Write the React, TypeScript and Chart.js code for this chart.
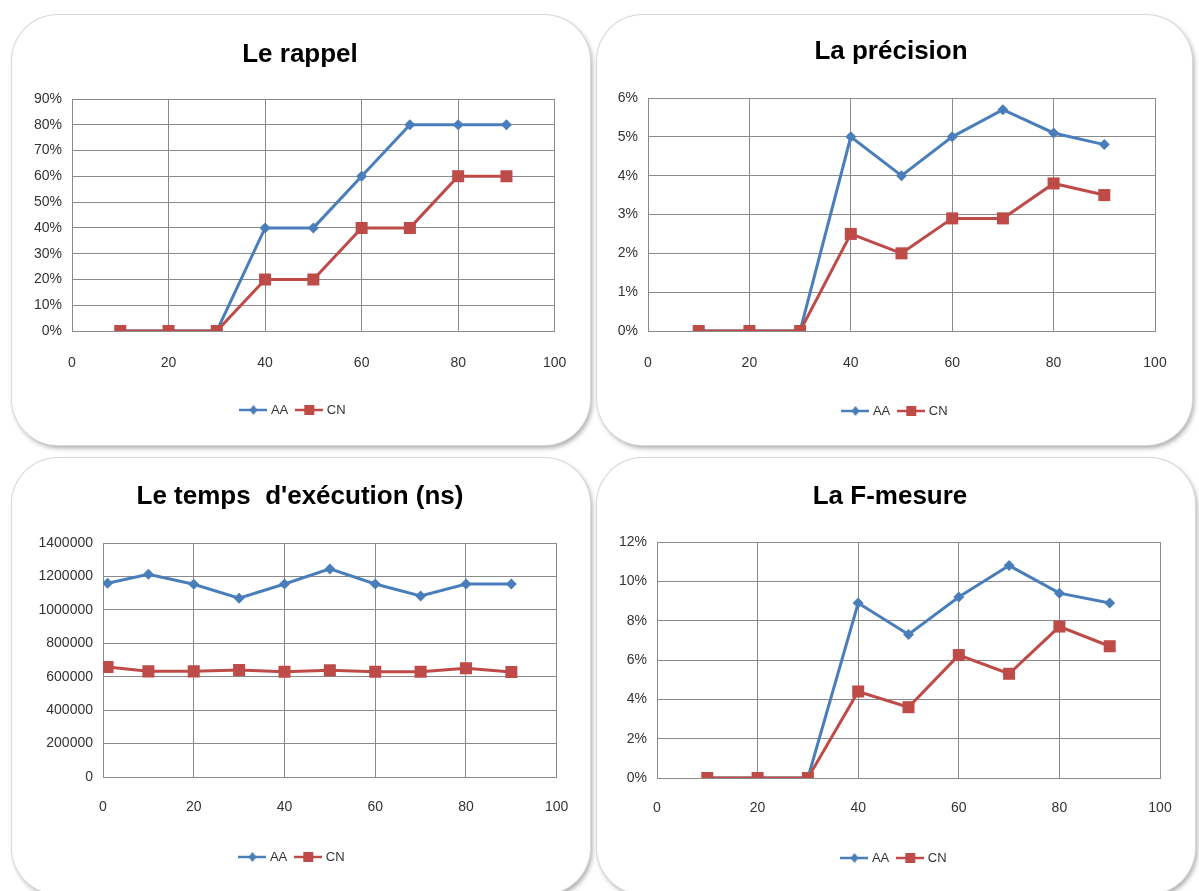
import React, { useEffect, useRef } from "react";
import { Chart, registerables } from "chart.js";

Chart.register(...registerables);

// ---------- data ----------
const seriesNames = ["AA", "CN"];
const xValues = [10, 20, 30, 40, 50, 60, 70, 80, 90];
const timeXValues = [1, 10, 20, 30, 40, 50, 60, 70, 80, 90];

const rappelAA = [0, 0, 0, 40, 40, 60, 80, 80, 80];
const rappelCN = [0, 0, 0, 20, 20, 40, 40, 60, 60];

const precisionAA = [0, 0, 0, 5.0, 4.0, 5.0, 5.7, 5.1, 4.8];
const precisionCN = [0, 0, 0, 2.5, 2.0, 2.9, 2.9, 3.8, 3.5];

const timeAA = [1159000, 1213000, 1153000, 1070000, 1155000, 1245000, 1155000, 1083000, 1155000, 1155000];
const timeCN = [658000, 632000, 632000, 640000, 630000, 638000, 630000, 630000, 650000, 628000];

const fmesureAA = [0, 0, 0, 8.9, 7.3, 9.2, 10.8, 9.4, 8.9];
const fmesureCN = [0, 0, 0, 4.4, 3.6, 6.25, 5.3, 7.7, 6.7];

const titles = ["Le rappel", "La précision", "Le temps  d'exécution (ns)", "La F-mesure"];

// ---------- style ----------
const BLUE = "#4A7EBB";
const RED = "#BE4B48";
const GRID = "#8a8a8a";
const TEXT = "#333333";
const FONT = "'Liberation Sans Narrow', 'Liberation Sans', Arial, sans-serif";

type Geo = {
  box: { x: number; y: number; w: number; h: number };
  plot: { l: number; r: number; t: number; b: number };
  titleY: number;
  titleX: number;
  xlabY: number;
  legendY: number;
  legendX: number;
};

function legendImage(color: string, square: boolean): HTMLCanvasElement {
  const c = document.createElement("canvas");
  c.width = 28;
  c.height = 14;
  const g = c.getContext("2d")!;
  g.strokeStyle = color;
  g.lineWidth = 2.5;
  g.beginPath();
  g.moveTo(0, 7);
  g.lineTo(28, 7);
  g.stroke();
  g.fillStyle = color;
  if (square) {
    g.fillRect(14 - 5, 7 - 5, 10, 10);
  } else {
    g.beginPath();
    g.moveTo(14, 2);
    g.lineTo(18, 7);
    g.lineTo(14, 12);
    g.lineTo(10, 7);
    g.closePath();
    g.fill();
  }
  return c;
}

type PanelProps = {
  geo: Geo;
  title: string;
  xs: number[];
  aa: number[];
  cn: number[];
  yMax: number;
  yStep: number;
  fmt: (v: number) => string;
};

function Panel({ geo, title, xs, aa, cn, yMax, yStep, fmt }: PanelProps) {
  const ref = useRef<HTMLCanvasElement>(null);
  useEffect(() => {
    const { box, plot } = geo;
    const pl = plot.l - box.x;
    const pr = box.w - (plot.r - box.x);
    const pt = plot.t - box.y;
    const pb = plot.b - box.y;
    const titleSize = 26;
    const titleLH = titleSize * 1.2;
    const tc = geo.titleY - box.y;
    const tPadTop = tc - titleLH / 2;
    const tPadBottom = pt - tc - titleLH / 2;
    const legFont = 13;
    const legPad = 10;
    const lc = geo.legendY - box.y;
    const legTop = lc - legPad - legFont / 2;
    const legBottom = legTop + 2 * legPad + legFont;
    const padBottom = box.h - legBottom;
    const xAxisH = legTop - pb;
    const tickSize = 14;
    const xPad = geo.xlabY - box.y - pb - (tickSize * 1.2) / 2;

    const imgs = [legendImage(BLUE, false), legendImage(RED, true)];

    const centerShift = {
      id: "centerShift",
      afterLayout(ch: any) {
        const shift = (b: any, target: number) => {
          if (!b) return;
          const dx = target - box.x - (b.left + b.right) / 2;
          b.left += dx;
          b.right += dx;
        };
        shift(ch.legend, geo.legendX);
        shift(ch.titleBlock, geo.titleX);
      },
    };

    const chart = new Chart(ref.current!, {
      type: "line",
      data: {
        datasets: [
          {
            label: seriesNames[0],
            data: xs.map((x, i) => ({ x, y: aa[i] })),
            borderColor: BLUE,
            backgroundColor: BLUE,
            borderWidth: 3,
            pointStyle: "rectRot",
            pointRadius: 5.5,
            pointBorderWidth: 0,
            tension: 0,
            order: 1,
          },
          {
            label: seriesNames[1],
            data: xs.map((x, i) => ({ x, y: cn[i] })),
            borderColor: RED,
            backgroundColor: RED,
            borderWidth: 3,
            pointStyle: "rect",
            pointRadius: 8.5,
            pointBorderWidth: 0,
            tension: 0,
            order: 0,
          },
        ],
      },
      options: {
        animation: false,
        responsive: false,
        layout: { padding: { left: 0, right: pr, top: 0, bottom: padBottom } },
        plugins: {
          tooltip: { enabled: false },
          title: {
            display: true,
            text: title,
            color: "#000",
            font: { family: FONT, size: titleSize, weight: "bold", lineHeight: 1.2 },
            padding: { top: tPadTop, bottom: tPadBottom },
          },
          legend: {
            position: "bottom",
            labels: {
              usePointStyle: true,
              pointStyleWidth: 22,
              padding: legPad,
              color: TEXT,
              font: { family: FONT, size: legFont },
              sort: (a: any, b: any) => a.datasetIndex - b.datasetIndex,
              generateLabels: (ch: any) => {
                const items = (Chart.defaults.plugins.legend.labels as any).generateLabels(ch);
                return items.map((it: any) => ({ ...it, pointStyle: imgs[it.datasetIndex], fontColor: TEXT }));
              },
            },
          },
        },
        scales: {
          x: {
            type: "linear",
            min: 0,
            max: 100,
            ticks: {
              stepSize: 20,
              color: TEXT,
              padding: xPad,
              font: { family: FONT, size: tickSize },
              maxRotation: 0,
            },
            grid: { color: GRID, drawTicks: false, lineWidth: 1 },
            border: { display: true, color: GRID },
            afterFit: (s: any) => {
              s.height = xAxisH;
            },
          },
          y: {
            min: 0,
            max: yMax,
            ticks: {
              stepSize: yStep,
              color: TEXT,
              padding: 10,
              font: { family: FONT, size: tickSize },
              callback: (v: any) => fmt(Number(v)),
            },
            grid: { color: GRID, drawTicks: false, lineWidth: 1 },
            border: { display: true, color: GRID },
            afterFit: (s: any) => {
              s.width = pl;
            },
          },
        },
      },
      plugins: [centerShift],
    } as any);
    return () => chart.destroy();
  }, []);

  const { box } = geo;
  return (
    <div
      style={{
        position: "absolute",
        left: box.x,
        top: box.y,
        width: box.w,
        height: box.h,
        borderRadius: 46,
        background: "#fff",
        boxShadow: "0 0 0 1px #d8d8d8, 2px 3px 5px rgba(0,0,0,0.35)",
        overflow: "hidden",
      }}
    >
      <canvas ref={ref} width={box.w} height={box.h} style={{ display: "block", width: box.w, height: box.h }} />
    </div>
  );
}

const pct = (v: number) => `${v}%`;
const plain = (v: number) => `${v}`;

const geos: Geo[] = [
  { box: { x: 12, y: 15, w: 578, h: 430 }, plot: { l: 72, r: 558, t: 99, b: 331 }, titleY: 55, titleX: 300, xlabY: 363, legendY: 410, legendX: 294 },
  { box: { x: 597, y: 15, w: 595, h: 430 }, plot: { l: 648, r: 1155, t: 98, b: 331 }, titleY: 52, titleX: 891, xlabY: 363, legendY: 411, legendX: 896 },
  { box: { x: 12, y: 458, w: 578, h: 436 }, plot: { l: 103, r: 557, t: 543, b: 777 }, titleY: 497, titleX: 300, xlabY: 807, legendY: 857, legendX: 293 },
  { box: { x: 597, y: 458, w: 598, h: 436 }, plot: { l: 657, r: 1160, t: 542, b: 778 }, titleY: 497, titleX: 890, xlabY: 808, legendY: 858, legendX: 895 },
];

export default function App() {
  return (
    <div style={{ position: "fixed", left: 0, top: 0, width: 1199, height: 891, background: "#fff", overflow: "hidden" }}>
      <Panel geo={geos[0]} title={titles[0]} xs={xValues} aa={rappelAA} cn={rappelCN} yMax={90} yStep={10} fmt={pct} />
      <Panel geo={geos[1]} title={titles[1]} xs={xValues} aa={precisionAA} cn={precisionCN} yMax={6} yStep={1} fmt={pct} />
      <Panel geo={geos[2]} title={titles[2]} xs={timeXValues} aa={timeAA} cn={timeCN} yMax={1400000} yStep={200000} fmt={plain} />
      <Panel geo={geos[3]} title={titles[3]} xs={xValues} aa={fmesureAA} cn={fmesureCN} yMax={12} yStep={2} fmt={pct} />
    </div>
  );
}
